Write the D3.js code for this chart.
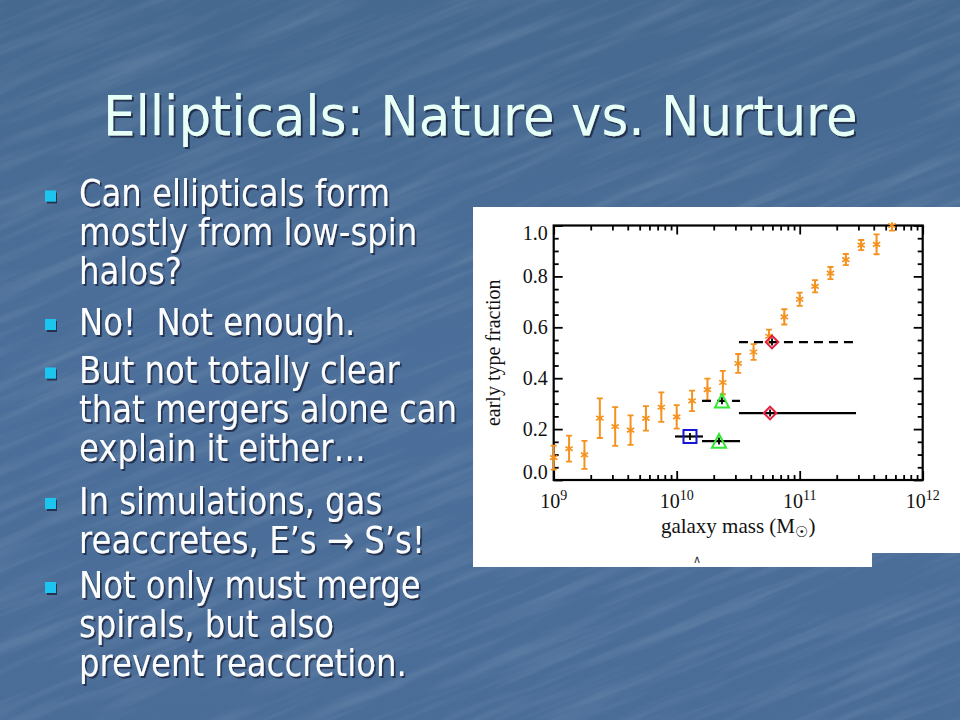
<!DOCTYPE html>
<html>
<head>
<meta charset="utf-8">
<script src="https://cdn.jsdelivr.net/npm/d3@7"></script>
<style>
  body { margin: 0; background: #4a6d98; }
  svg { display: block; }
  .serif { font-family: 'Liberation Serif', 'Times New Roman', serif; fill: #111; }
  .sans { font-family: 'DejaVu Sans', Tahoma, sans-serif; white-space: pre; }
</style>
</head>
<body>
<svg id="slide" width="960" height="720"></svg>
<script>
// slide text
const slideTitle = 'Ellipticals: Nature vs. Nurture';
const bulletLines = [
  ['Can ellipticals form', 'mostly from low-spin', 'halos?'],
  ['No!  Not enough.'],
  ['But not totally clear', 'that mergers alone can', 'explain it either…'],
  ['In simulations, gas', 'reaccretes, E’s \u2192 S’s!'],
  ['Not only must merge', 'spirals, but also', 'prevent reaccretion.']
];

// observed early type fraction vs log10 galaxy mass
const logMass = [9.0, 9.125, 9.25, 9.375, 9.5, 9.625, 9.75, 9.875, 10.0, 10.125, 10.25, 10.375,
  10.5, 10.625, 10.75, 10.875, 11.0, 11.125, 11.25, 11.375, 11.5, 11.625, 11.75];
const earlyFrac = [0.088, 0.123, 0.099, 0.243, 0.21, 0.196, 0.242, 0.286, 0.248, 0.311, 0.355, 0.383,
  0.458, 0.503, 0.565, 0.641, 0.71, 0.761, 0.813, 0.866, 0.923, 0.926, 1.0];
const fracErr = [0.047, 0.051, 0.055, 0.078, 0.076, 0.058, 0.048, 0.058, 0.046, 0.04, 0.043, 0.046,
  0.037, 0.031, 0.026, 0.03, 0.026, 0.024, 0.024, 0.022, 0.02, 0.039, 0.02];

// simulation remnants: marker, log mass, fraction, mass range, line style
const simShape = ['square', 'triangle', 'triangle', 'diamond', 'diamond'];
const simMass = [10.108, 10.344, 10.368, 10.759, 10.775];
const simFrac = [0.171, 0.153, 0.311, 0.263, 0.542];
const simLo = [9.986, 10.206, 10.206, 10.506, 10.506];
const simHi = [10.214, 10.515, 10.515, 11.458, 11.458];
const simDashed = [false, false, true, false, true];

const xMajor = [1e9, 1e10, 1e11, 1e12];
const xExponents = ['9', '10', '11', '12'];
const yMajor = [0, 0.2, 0.4, 0.6, 0.8, 1.0];

const shapeColor = { square: '#1616d4', triangle: '#33e833', diamond: '#e6203e' };

const svg = d3.select('#slide');

// background with faint streaky texture
const defs = svg.append('defs');
const bg = defs.append('linearGradient').attr('id', 'bg').attr('x1', 0).attr('y1', 0).attr('x2', 0).attr('y2', 1);
bg.append('stop').attr('offset', 0).attr('stop-color', '#466990');
bg.append('stop').attr('offset', 0.5).attr('stop-color', '#4b6f9a');
bg.append('stop').attr('offset', 1).attr('stop-color', '#4a6d98');
const tex = defs.append('filter').attr('id', 'tex').attr('x', 0).attr('y', 0).attr('width', 1).attr('height', 1);
tex.append('feTurbulence').attr('type', 'fractalNoise').attr('baseFrequency', '0.006 0.09')
  .attr('numOctaves', 4).attr('seed', 7).attr('result', 'n');
tex.append('feColorMatrix').attr('in', 'n').attr('type', 'matrix')
  .attr('values', '0 0 0 0 1  0 0 0 0 1  0 0 0 0 1  0 0 0 1.4 -0.6');

const shadow = defs.append('filter').attr('id', 'shadow').attr('x', '-5%').attr('y', '-20%')
  .attr('width', '110%').attr('height', '140%');
shadow.append('feDropShadow').attr('dx', 2).attr('dy', 2).attr('stdDeviation', 0.6)
  .attr('flood-color', '#16233a').attr('flood-opacity', 0.8);

svg.append('rect').attr('width', 960).attr('height', 720).attr('fill', 'url(#bg)');
svg.append('rect').attr('x', -300).attr('y', -300).attr('width', 1560).attr('height', 1320)
  .attr('filter', 'url(#tex)').attr('opacity', 0.16)
  .attr('transform', 'rotate(-22 480 360)');

// title
const titleG = svg.append('g').attr('filter', 'url(#shadow)');
const titleNode = titleG.append('text').attr('class', 'sans').attr('x', 0).attr('y', 135)
  .attr('font-size', 55).attr('fill', '#e6fff7').text(slideTitle);
const titleScale = 755 / titleNode.node().getComputedTextLength();
titleG.attr('transform', `translate(103,0) scale(${titleScale},1)`);

// bullets: one text block per bullet, lines as tspans
const paraTop = [206.5, 335, 383.5, 514, 598];
const lineStep = 38.8;
const textG = svg.append('g').attr('filter', 'url(#shadow)');
const squares = svg.append('g').attr('filter', 'url(#shadow)');
bulletLines.forEach((lines, p) => {
  squares.append('rect').attr('x', 45).attr('y', paraTop[p] - 16).attr('width', 11).attr('height', 11)
    .attr('fill', '#1ec4f0');
  const block = textG.append('text').attr('class', 'sans').attr('y', paraTop[p])
    .attr('font-size', 38).attr('fill', '#fbfdff');
  lines.forEach((ln, i) => block.append('tspan').attr('x', 0)
    .attr('dy', i === 0 ? 0 : lineStep).text(ln));
});
const refLine = textG.selectAll('tspan').filter(function () { return this.textContent === 'that mergers alone can'; }).node();
const textScale = 378 / refLine.getComputedTextLength();
textG.attr('transform', `translate(79,0) scale(${textScale},1)`);

// white figure panel
svg.append('path').attr('d', 'M473,207H960V553H872V567H473Z').attr('fill', '#ffffff');
svg.append('text').attr('x', 697).attr('y', 563).attr('text-anchor', 'middle')
  .attr('font-family', 'DejaVu Sans').attr('font-size', 11).attr('fill', '#333').text('\u2227');

// chart
const plot = { left: 553.7, right: 922.7, top: 225.5, bottom: 480 };
const x = d3.scaleLog().domain([1e9, 1e12]).range([plot.left, plot.right]);
const y = d3.scaleLinear().domain([0, 1]).range([plot.bottom, plot.top]);
const chart = svg.append('g');
defs.append('clipPath').attr('id', 'plotclip').append('rect')
  .attr('x', plot.left - 10).attr('y', plot.top - 3)
  .attr('width', plot.right - plot.left + 20).attr('height', plot.bottom - plot.top + 13);

const xMinor = x.ticks().filter(v => !xMajor.includes(v));
const yMinor = y.ticks(20).filter(v => !yMajor.some(m => Math.abs(m - v) < 1e-9));

function ticks(axisFn, scale, values, len, transform) {
  chart.append('g').attr('transform', transform)
    .call(axisFn(scale).tickValues(values).tickSize(-len).tickFormat(''))
    .call(g => g.select('.domain').remove())
    .call(g => g.selectAll('line').attr('stroke', '#000').attr('stroke-width', 1.8));
}
ticks(d3.axisBottom, x, xMajor, 9, `translate(0,${plot.bottom})`);
ticks(d3.axisBottom, x, xMinor, 5, `translate(0,${plot.bottom})`);
ticks(d3.axisTop, x, xMajor, 9, `translate(0,${plot.top})`);
ticks(d3.axisTop, x, xMinor, 5, `translate(0,${plot.top})`);
ticks(d3.axisLeft, y, yMajor, 9, `translate(${plot.left},0)`);
ticks(d3.axisLeft, y, yMinor, 5, `translate(${plot.left},0)`);
ticks(d3.axisRight, y, yMajor, 9, `translate(${plot.right},0)`);
ticks(d3.axisRight, y, yMinor, 5, `translate(${plot.right},0)`);

chart.append('rect').attr('x', plot.left).attr('y', plot.top)
  .attr('width', plot.right - plot.left).attr('height', plot.bottom - plot.top)
  .attr('fill', 'none').attr('stroke', '#000').attr('stroke-width', 2.2);

// tick labels
yMajor.forEach(v => {
  const shift = v === 1 ? 7.5 : v === 0 ? -7.5 : 0;
  chart.append('text').attr('class', 'serif').attr('x', plot.left - 6).attr('y', y(v) + shift)
    .attr('dy', '0.34em').attr('text-anchor', 'end').attr('font-size', 20).text(v.toFixed(1));
});
xMajor.forEach((v, i) => {
  const t = chart.append('text').attr('class', 'serif').attr('x', x(v)).attr('y', 507.5)
    .attr('text-anchor', 'middle').attr('font-size', 20);
  t.append('tspan').text('10');
  t.append('tspan').attr('font-size', 14).attr('dy', -8).text(xExponents[i]);
});

// axis titles
chart.append('text').attr('class', 'serif').attr('font-size', 20).attr('text-anchor', 'middle')
  .attr('transform', `translate(500,${(plot.top + plot.bottom) / 2}) rotate(-90)`)
  .text('early type fraction');
const xl = chart.append('text').attr('class', 'serif').attr('font-size', 21).attr('text-anchor', 'middle')
  .attr('x', (plot.left + plot.right) / 2).attr('y', 533);
xl.append('tspan').text('galaxy mass (M');
xl.append('tspan').attr('font-family', 'DejaVu Sans').attr('font-size', 15).attr('dy', 4).text('\u2609');
xl.append('tspan').attr('dy', -4).text(')');

// observed points with error bars
const orange = '#f5921e';
const obs = chart.append('g').attr('stroke', orange).attr('fill', 'none').attr('clip-path', 'url(#plotclip)');
logMass.forEach((lm, i) => {
  const px = x(Math.pow(10, lm));
  const lo = y(earlyFrac[i] - fracErr[i]);
  const hi = y(earlyFrac[i] + fracErr[i]);
  obs.append('line').attr('x1', px).attr('x2', px).attr('y1', lo).attr('y2', hi).attr('stroke-width', 2);
  [lo, hi].forEach(yy => obs.append('line').attr('x1', px - 3).attr('x2', px + 3)
    .attr('y1', yy).attr('y2', yy).attr('stroke-width', 1.8));
  obs.append('path').attr('transform', `translate(${px},${y(earlyFrac[i])})`)
    .attr('d', d3.symbol(d3.symbolAsterisk, 50)()).attr('stroke-width', 1.6);
});

// simulated remnants
function shapePath(shape, r) {
  const p = d3.path();
  if (shape === 'square') {
    p.rect(-r, -r, 2 * r, 2 * r);
  } else if (shape === 'triangle') {
    p.moveTo(0, -r); p.lineTo(r, r * 0.95); p.lineTo(-r, r * 0.95); p.closePath();
  } else {
    p.moveTo(0, -r); p.lineTo(r, 0); p.lineTo(0, r); p.lineTo(-r, 0); p.closePath();
  }
  return p.toString();
}
const sims = chart.append('g');
simShape.forEach((shape, i) => {
  const yy = y(simFrac[i]);
  sims.append('line').attr('x1', x(Math.pow(10, simLo[i]))).attr('x2', x(Math.pow(10, simHi[i])))
    .attr('y1', yy).attr('y2', yy).attr('stroke', '#000').attr('stroke-width', 2.2)
    .attr('stroke-dasharray', simDashed[i] ? '9,6' : null);
  const px = x(Math.pow(10, simMass[i]));
  sims.append('line').attr('x1', px).attr('x2', px).attr('y1', yy - 3.5).attr('y2', yy + 3.5)
    .attr('stroke', '#000').attr('stroke-width', 1.8);
  const r = shape === 'square' ? 6.5 : shape === 'triangle' ? 7 : 6.3;
  sims.append('path').attr('transform', `translate(${px},${yy})`)
    .attr('d', shapePath(shape, r)).attr('fill', 'none')
    .attr('stroke', shapeColor[shape]).attr('stroke-width', 2);
});
</script>
</body>
</html>
